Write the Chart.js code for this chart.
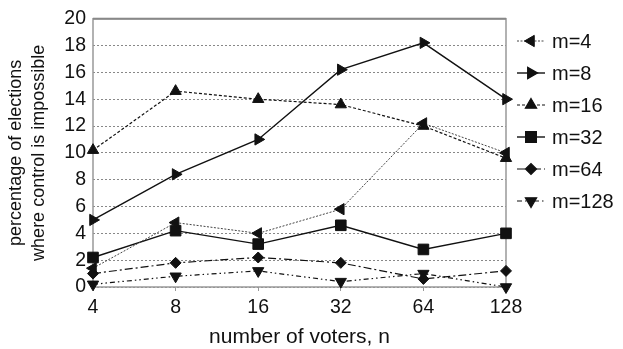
<!DOCTYPE html>
<html>
<head>
<meta charset="utf-8">
<script src="https://cdn.jsdelivr.net/npm/chart.js@4.4.0/dist/chart.umd.min.js"></script>
<style>
  html, body { margin: 0; padding: 0; background: #fff; }
  #wrap { width: 623px; height: 349px; }
</style>
</head>
<body>
<div id="wrap"><canvas id="myChart" width="623" height="349"></canvas></div>
<script>
'use strict';

const voters = ['4', '8', '16', '32', '64', '128'];
const seriesNames = ['m=4', 'm=8', 'm=16', 'm=32', 'm=64', 'm=128'];
const m4 = [1.4, 4.8, 4.0, 5.8, 12.2, 10.0];
const m8 = [5.0, 8.4, 11.0, 16.2, 18.2, 14.0];
const m16 = [10.2, 14.6, 14.0, 13.6, 12.0, 9.6];
const m32 = [2.2, 4.2, 3.2, 4.6, 2.8, 4.0];
const m64 = [1.0, 1.8, 2.2, 1.8, 0.6, 1.2];
const m128 = [0.2, 0.8, 1.2, 0.4, 1.0, 0.0];
const yTicks = [0, 2, 4, 6, 8, 10, 12, 14, 16, 18, 20];

(() => {
  const FONT = "'Liberation Sans', Arial, sans-serif";
  const INK = '#111';

  // line dash, marker, rotation, radius per series
  const styles = [
    {dash: [2, 1.5], width: 1, color: '#444', point: 'triangle', rot: 270, r: 6.5},
    {dash: [], width: 1.4, color: INK, point: 'triangle', rot: 90, r: 6.5},
    {dash: [3, 2], width: 1.2, color: INK, point: 'triangle', rot: 0, r: 6.5},
    {dash: [], width: 1.4, color: INK, point: 'rect', rot: 0, r: 7.5},
    {dash: [8, 3, 2, 3], width: 1.2, color: INK, point: 'rectRot', rot: 0, r: 5.5},
    {dash: [5, 3, 1.5, 3, 1.5, 3], width: 1.2, color: INK, point: 'triangle', rot: 180, r: 6.5}
  ];
  const values = [m4, m8, m16, m32, m64, m128];

  const datasets = values.map((data, i) => ({
    label: seriesNames[i],
    data,
    borderColor: styles[i].color,
    borderWidth: styles[i].width,
    borderDash: styles[i].dash,
    pointStyle: styles[i].point,
    rotation: styles[i].rot,
    pointRadius: styles[i].r,
    pointBackgroundColor: INK,
    pointBorderColor: INK,
    pointBorderWidth: 1,
    tension: 0,
    clip: false
  }));

  const framePlugin = {
    id: 'frame',
    beforeDatasetsDraw(chart) {
      const {ctx, chartArea: a} = chart;
      ctx.save();
      ctx.strokeStyle = '#999';
      ctx.lineWidth = 1.5;
      ctx.setLineDash([]);
      ctx.strokeRect(a.left, a.top, a.right - a.left, a.bottom - a.top);
      // top edge a bit darker, like the original
      ctx.strokeStyle = '#888';
      ctx.lineWidth = 2;
      ctx.beginPath();
      ctx.moveTo(a.left, a.top);
      ctx.lineTo(a.right, a.top);
      ctx.stroke();
      ctx.restore();
    }
  };

  const legendPlugin = {
    id: 'sideLegend',
    afterDraw(chart) {
      const ctx = chart.ctx;
      ctx.save();
      chart.data.datasets.forEach((ds, i) => {
        const y = 41 + i * 32;
        const st = styles[i];
        ctx.strokeStyle = st.color;
        ctx.lineWidth = st.width;
        ctx.setLineDash(st.dash);
        ctx.beginPath();
        ctx.moveTo(517, y);
        ctx.lineTo(545, y);
        ctx.stroke();
        ctx.setLineDash([]);
        ctx.fillStyle = INK;
        ctx.strokeStyle = INK;
        Chart.helpers.drawPoint(ctx, {pointStyle: st.point, rotation: st.rot, radius: st.r, borderWidth: 1}, 531, y);
        ctx.fillStyle = '#111';
        ctx.font = '20px ' + FONT;
        ctx.textAlign = 'left';
        ctx.textBaseline = 'middle';
        ctx.fillText(ds.label, 552, y + 1);
      });
      ctx.restore();
    }
  };

  const ctx = document.getElementById('myChart').getContext('2d');
  new Chart(ctx, {
    type: 'line',
    data: {labels: voters, datasets},
    plugins: [framePlugin, legendPlugin],
    options: {
      responsive: false,
      animation: false,
      layout: {padding: {left: 0, top: 17, right: 117, bottom: 0}},
      plugins: {legend: {display: false}, tooltip: {enabled: false}},
      scales: {
        x: {
          offset: false,
          grid: {display: true, drawOnChartArea: false, drawTicks: true, tickLength: 4, color: '#999'},
          border: {display: false},
          ticks: {color: '#111', font: {family: FONT, size: 19.5}, padding: 5, maxRotation: 0},
          title: {display: true, text: 'number of voters, n', color: '#111',
            font: {family: FONT, size: 21, lineHeight: 1}, padding: {top: 0, bottom: 1}},
          afterFit: s => { s.height = 62; }
        },
        y: {
          min: 0,
          max: 20,
          afterBuildTicks: s => { s.ticks = yTicks.map(v => ({value: v})); },
          grid: {color: '#888', lineWidth: 1, drawTicks: false},
          border: {display: false, dash: [2, 2]},
          ticks: {color: '#111', font: {family: FONT, size: 19.5}, padding: 7},
          title: {display: true, text: ['percentage of elections', 'where control is impossible'],
            color: '#111', font: {family: FONT, size: 18, lineHeight: 1.25}, padding: {top: 5, bottom: 0}},
          afterFit: s => { s.width = 93; }
        }
      }
    }
  });
})();
</script>
</body>
</html>
